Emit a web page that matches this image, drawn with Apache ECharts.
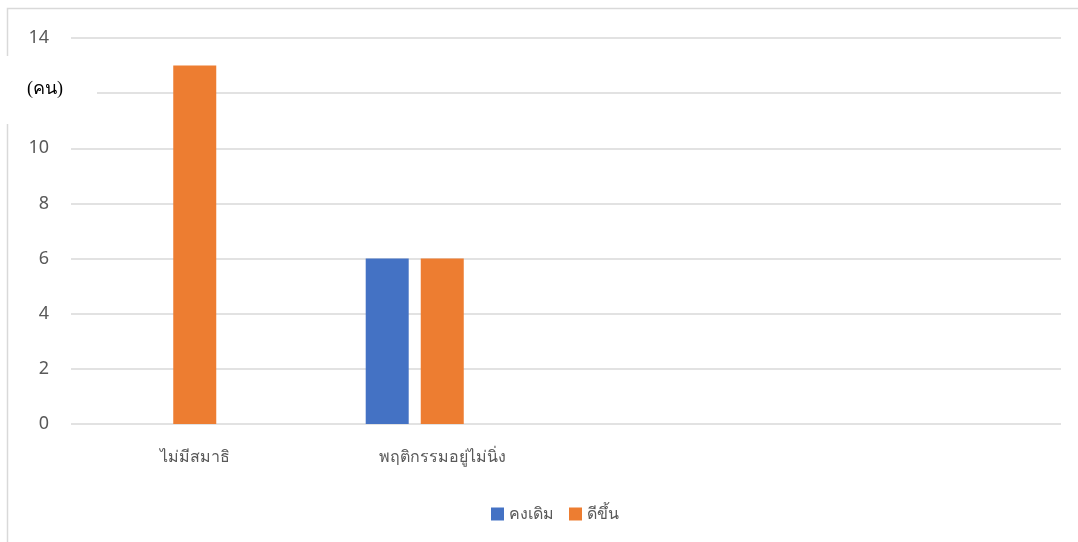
<!DOCTYPE html>
<html>
<head>
<meta charset="utf-8">
<script src="https://cdn.jsdelivr.net/npm/echarts@6/dist/echarts.min.js"></script>
<style>
  html, body { margin: 0; padding: 0; background: #fff; }
  #chart { width: 1078px; height: 542px; }
</style>
</head>
<body>
<div id="chart"></div>
<script>
// หมวดหมู่ (สองช่องท้ายว่างตามต้นฉบับ)
const categories = ['ไม่มีสมาธิ', 'พฤติกรรมอยู่ไม่นิ่ง', '', ''];
const seriesNames = ['คงเดิม', 'ดีขึ้น'];
const kongDerm = [0, 6, null, null];
const deeKhun = [13, 6, null, null];
const emptySeries = [null, null, null, null]; // ชุดที่สามไม่มีค่า ไม่แสดงในคำอธิบาย
const yTicks = { min: 0, max: 14, interval: 2 };
const unitLabel = '(คน)';

const chart = echarts.init(document.getElementById('chart'));
const FONT = '"Noto Sans", "Liberation Sans", sans-serif';

const option = {
  backgroundColor: '#fff',
  animation: false,
  grid: { left: 71, right: 17, top: 38, bottom: 118 },
  legend: {
    data: seriesNames,
    top: 506,
    left: 491,
    padding: 0,
    itemWidth: 13,
    itemHeight: 13,
    itemGap: 15,
    icon: 'rect',
    textStyle: { color: '#595959', fontSize: 16, fontFamily: FONT },
  },
  xAxis: {
    type: 'category',
    data: categories,
    axisLine: { show: false },
    axisTick: { show: false },
    axisLabel: { color: '#595959', fontSize: 16, fontFamily: FONT, margin: 25 },
  },
  yAxis: {
    type: 'value',
    min: yTicks.min,
    max: yTicks.max,
    interval: yTicks.interval,
    axisLine: { show: false },
    axisTick: { show: false },
    axisLabel: { color: '#595959', fontSize: 18, fontFamily: FONT, margin: 22 },
    splitLine: { lineStyle: { color: '#d9d9d9', width: 1.5 } },
  },
  series: [
    {
      name: seriesNames[0], type: 'bar', data: kongDerm,
      barWidth: 43, barGap: '28%',
      itemStyle: { color: '#4472c4' },
    },
    {
      name: seriesNames[1], type: 'bar', data: deeKhun,
      barWidth: 43, barGap: '28%',
      itemStyle: { color: '#ed7d31' },
    },
    {
      name: '', type: 'bar', data: emptySeries,
      barWidth: 43, barGap: '28%',
      itemStyle: { color: '#a5a5a5' },
    },
  ],
  graphic: [
    {
      type: 'rect', z: 0, silent: true,
      shape: { x: 7.5, y: 8.5, width: 1200, height: 700 },
      style: { fill: 'none', stroke: '#d9d9d9', lineWidth: 1.5 },
    },
    {
      type: 'rect', z: 100, silent: true,
      shape: { x: 0, y: 56, width: 97, height: 68 },
      style: { fill: '#fff' },
    },
    {
      type: 'text', z: 101, silent: true,
      left: 27, top: 80,
      style: { text: unitLabel, fill: '#000', fontSize: 18, fontWeight: 'normal', fontFamily: '"Liberation Serif", "DejaVu Serif", serif' },
    },
  ],
};

chart.setOption(option);
</script>
</body>
</html>
